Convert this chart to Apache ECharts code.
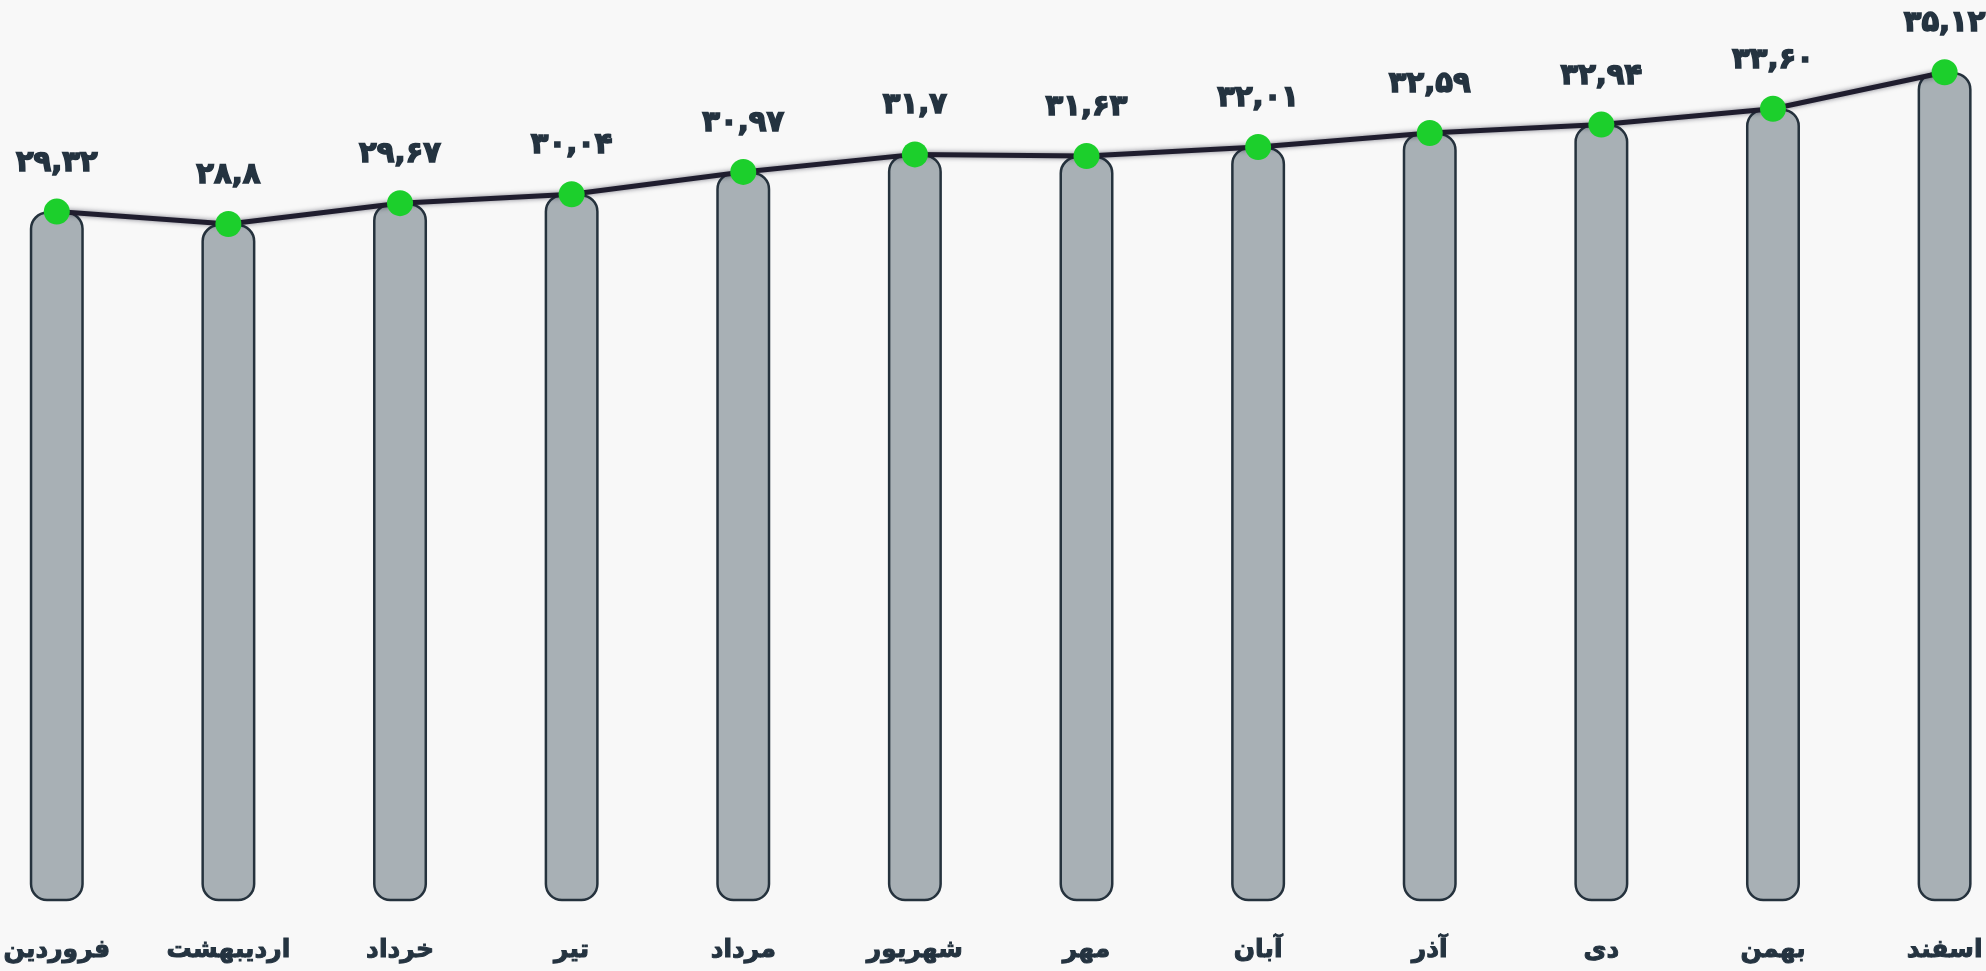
<!DOCTYPE html>
<html>
<head>
<meta charset="utf-8">
<style>
  html, body { margin: 0; padding: 0; background: #f8f8f8; }
  #chart { width: 1986px; height: 971px; }
</style>
<script src="https://cdn.jsdelivr.net/npm/echarts@6/dist/echarts.min.js"></script>
</head>
<body>
<div id="chart"></div>
<script>
// Persian months, Farvardin to Esfand
const months = ['فروردین', 'اردیبهشت', 'خرداد', 'تیر', 'مرداد', 'شهریور', 'مهر', 'آبان', 'آذر', 'دی', 'بهمن', 'اسفند'];
// Monthly values as written in the labels
const valueText = ['29.32', '28.8', '29.67', '30.04', '30.97', '31.7', '31.63', '32.01', '32.59', '32.94', '33.60', '35.12'];
const values = valueText.map(Number);

const faDigits = '۰۱۲۳۴۵۶۷۸۹';
function toPersian(s) {
  return s.replace(/[0-9]/g, d => faDigits[+d]).replace('.', ',');
}

const font = '"DejaVu Sans", "Noto Sans", sans-serif';
const ink = '#243340';
const chart = echarts.init(document.getElementById('chart'));
chart.setOption({
  backgroundColor: '#f8f8f8',
  animation: false,
  grid: { left: 53, right: 36, top: 3, bottom: 71 },
  xAxis: {
    type: 'category',
    data: months,
    boundaryGap: false,
    axisLine: { show: false },
    axisTick: { show: false },
    axisLabel: {
      margin: 38,
      fontFamily: font,
      fontWeight: 'bold',
      fontSize: 25,
      color: ink,
      textBorderColor: ink,
      textBorderWidth: 1
    }
  },
  yAxis: {
    type: 'value',
    min: 0.67,
    max: 38,
    show: false,
    splitLine: { show: false }
  },
  series: [
    {
      type: 'bar',
      data: values,
      barWidth: 54,
      itemStyle: {
        color: '#a8b0b5',
        borderColor: '#25323d',
        borderWidth: 2.5,
        borderRadius: 16
      },
      z: 1
    },
    {
      type: 'line',
      data: values,
      symbol: 'circle',
      symbolSize: 26,
      lineStyle: {
        color: '#1f1d2e',
        width: 5,
        shadowColor: 'rgba(20,20,40,0.55)',
        shadowBlur: 5
      },
      itemStyle: { color: '#1ccf2c' },
      label: {
        show: true,
        position: 'top',
        distance: 21,
        fontFamily: font,
        fontWeight: 'bold',
        fontSize: 29,
        color: ink,
        textBorderColor: ink,
        textBorderWidth: 1.5,
        formatter: p => toPersian(valueText[p.dataIndex])
      },
      z: 3
    }
  ]
});
</script>
</body>
</html>
